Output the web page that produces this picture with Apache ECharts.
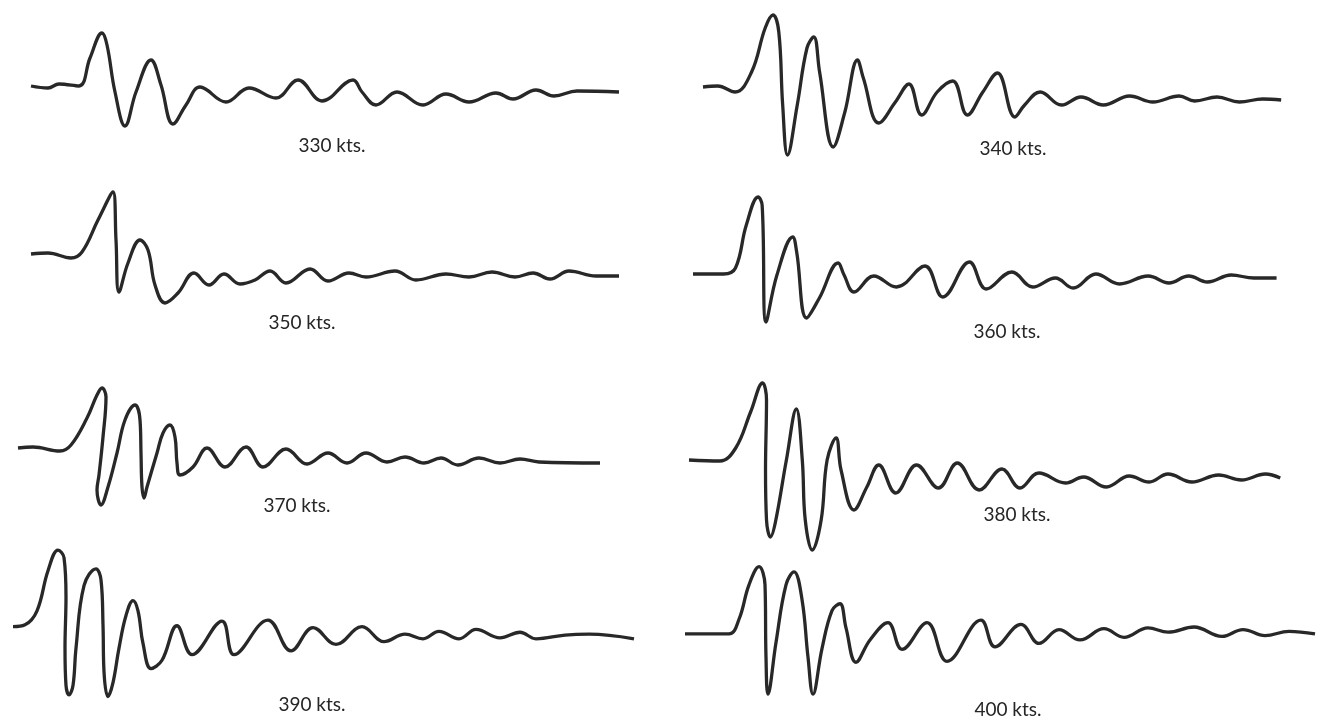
<!DOCTYPE html>
<html>
<head>
<meta charset="utf-8">
<script src="https://cdn.jsdelivr.net/npm/echarts@6/dist/echarts.min.js"></script>
<style>
  html, body { margin: 0; padding: 0; background: #fff; }
  #chart { width: 1321px; height: 720px; }
</style>
</head>
<body>
<div id="chart"></div>
<script>
// speed labels, one per trace
const speeds = ['330 kts.', '340 kts.', '350 kts.', '360 kts.', '370 kts.', '380 kts.', '390 kts.', '400 kts.'];

// traces: [time, deflection] (deflection positive = up)
const trace330 = [[0,0],[17,-2],[28,2],[48,0],[59,28],[71,53],[76,41],[84,-6],[94,-40],[105,-6],[120,26],[130,1],[142,-38],[155,-19],[169,-1],[195,-16],[218,-2],[245,-12],[267,6],[291,-15],[322,6],[331,-6],[345,-19],[366,-6],[392,-19],[415,-8],[438,-16],[465,-7],[482,-13],[505,-4],[523,-10],[546,-5],[588,-6]];
const trace340 = [[0,0],[15,1],[33,-5],[50,15],[64,59],[72,72],[78,55],[82,-18],[87,-68],[97,-18],[107,39],[114,50],[120,15],[134,-60],[146,-25],[159,27],[165,9],[181,-36],[198,-15],[212,3],[225,-28],[241,-5],[257,6],[272,-28],[288,-5],[303,14],[321,-30],[331,-18],[347,-5],[369,-18],[389,-10],[412,-18],[439,-9],[463,-15],[490,-9],[506,-14],[529,-10],[552,-15],[576,-12],[595,-13]];
const trace350 = [[0,0],[17,1],[40,-4],[51,2],[67,34],[82,62],[85,14],[88,-38],[97,-9],[109,14],[117,4],[124,-31],[134,-49],[147,-39],[163,-19],[178,-31],[193,-20],[209,-30],[224,-26],[239,-17],[255,-29],[279,-15],[297,-27],[318,-19],[335,-23],[364,-17],[385,-26],[415,-20],[438,-23],[461,-18],[484,-23],[502,-19],[519,-25],[538,-17],[565,-22],[588,-22]];
const trace360 = [[0,0],[31,0],[43,6],[54,49],[66,77],[70,69],[74,-48],[85,-1],[101,37],[105,22],[115,-44],[128,-24],[147,11],[153,-1],[163,-18],[183,-2],[206,-13],[235,8],[253,-23],[280,12],[297,-15],[323,2],[344,-13],[367,-4],[385,-14],[408,0],[432,-10],[461,-2],[482,-9],[502,-2],[521,-8],[545,-1],[568,-4],[591,-4]];
const trace370 = [[0,0],[15,1],[42,-3],[53,3],[69,30],[79,53],[84,60],[88,51],[85,11],[81,-27],[79,-42],[83,-57],[90,-39],[99,-5],[107,28],[117,43],[122,28],[123,-5],[124,-39],[126,-50],[129,-39],[139,-5],[145,15],[152,23],[157,11],[159,-15],[162,-27],[175,-19],[189,0],[207,-19],[228,1],[245,-19],[268,-1],[289,-16],[310,-5],[329,-15],[348,-5],[369,-14],[387,-9],[406,-15],[423,-10],[440,-17],[461,-10],[482,-15],[502,-11],[521,-14],[582,-15]];
const trace380 = [[0,0],[31,-1],[47,12],[62,48],[74,77],[78,60],[77,-10],[78,-60],[82,-77],[87,-62],[98,0],[108,51],[114,0],[117,-60],[124,-90],[133,-60],[139,0],[148,22],[153,-10],[166,-50],[179,-27],[191,-5],[208,-33],[229,-5],[251,-28],[270,-3],[292,-30],[315,-9],[333,-28],[352,-13],[379,-23],[397,-17],[420,-27],[443,-16],[463,-22],[482,-14],[506,-22],[533,-15],[556,-20],[580,-14],[595,-18]];
const trace390 = [[0,0],[12,2],[24,17],[35,60],[45,82],[51,74],[53,32],[52,-23],[53,-63],[56,-73],[60,-63],[63,-23],[71,44],[83,62],[88,50],[90,2],[91,-48],[95,-75],[100,-60],[106,-23],[113,12],[120,28],[125,17],[130,-18],[138,-45],[149,-36],[164,1],[179,-30],[209,6],[221,-30],[255,7],[278,-26],[300,-1],[323,-19],[349,0],[371,-16],[392,-8],[410,-13],[426,-5],[446,-13],[463,-3],[487,-12],[507,-6],[523,-13],[552,-9],[576,-8],[621,-13]];
const trace400 = [[0,0],[44,0],[54,17],[64,57],[74,78],[80,57],[81,-27],[83,-70],[91,-10],[101,57],[109,72],[117,40],[123,-27],[128,-70],[137,-17],[147,27],[155,35],[161,7],[171,-33],[185,-7],[203,13],[217,-18],[242,13],[262,-32],[296,16],[310,-15],[336,11],[354,-11],[374,5],[395,-7],[419,6],[439,-4],[463,7],[483,2],[509,8],[537,-3],[558,5],[580,-2],[604,3],[630,0]];

const traces = [trace330, trace340, trace350, trace360, trace370, trace380, trace390, trace400];

// where each panel sits on the page: trace start x, baseline y, label centre
const panels = [
  { x: 31,  y: 86,  lx: 327,  ly: 141 },
  { x: 703, y: 87,  lx: 1008, ly: 144 },
  { x: 31,  y: 254, lx: 297,  ly: 318 },
  { x: 693, y: 274, lx: 1002, ly: 327 },
  { x: 18,  y: 448, lx: 292,  ly: 501 },
  { x: 689, y: 460, lx: 1012, ly: 510 },
  { x: 13,  y: 632, lx: 307,  ly: 700 },
  { x: 685, y: 645, lx: 1003, ly: 705 }
];

let chart = echarts.init(document.getElementById('chart'));

let grids = [], xAxes = [], yAxes = [], seriesList = [], titles = [];
panels.forEach((p, i) => {
  grids.push({ left: p.x, top: p.y - 80, width: 636, height: 180 });
  xAxes.push({ gridIndex: i, type: 'value', min: 0, max: 636, show: false });
  yAxes.push({ gridIndex: i, type: 'value', min: -100, max: 80, show: false });
  seriesList.push({
    type: 'line',
    name: speeds[i],
    xAxisIndex: i,
    yAxisIndex: i,
    data: traces[i],
    smooth: 0.4,
    showSymbol: false,
    clip: false,
    lineStyle: { color: '#282828', width: 3.3 }
  });
  titles.push({
    text: speeds[i],
    left: p.lx,
    top: p.ly,
    textAlign: 'center',
    textVerticalAlign: 'middle',
    textStyle: { fontFamily: 'Lato', fontSize: 19, fontWeight: 'normal', color: '#262626' }
  });
});

chart.setOption({
  backgroundColor: '#fff',
  animation: false,
  title: titles,
  grid: grids,
  xAxis: xAxes,
  yAxis: yAxes,
  series: seriesList
});
</script>
</body>
</html>
